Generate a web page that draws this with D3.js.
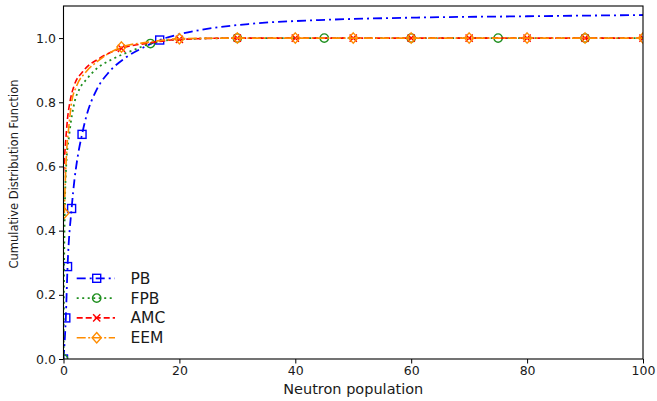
<!DOCTYPE html>
<html>
<head>
<meta charset="utf-8">
<script src="https://cdn.jsdelivr.net/npm/d3@7"></script>
<style>
  html, body { margin: 0; padding: 0; background: #fff; }
  svg { display: block; }
  text { font-family: "DejaVu Sans", sans-serif; fill: #1a1a1a; }
</style>
</head>
<body>
<svg id="chart" width="657" height="401"></svg>
<script>
// Cumulative distribution of the neutron population for four methods.
const xTicks = [0, 20, 40, 60, 80, 100];
const yTicks = [0.0, 0.2, 0.4, 0.6, 0.8, 1.0];
const seriesNames = ["PB", "FPB", "AMC", "EEM"];

// PB
const pbX = [0, 0.4, 0.7, 1.4, 1.9, 2.4, 3.2, 4.0, 5.6, 7.9, 10.8, 13.7, 16.6, 20, 23.5, 32, 44, 61, 80, 100];
const pbY = [0, 0.128, 0.288, 0.469, 0.56, 0.625, 0.70, 0.76, 0.835, 0.895, 0.94, 0.97, 0.994, 1.012, 1.025, 1.044, 1.056, 1.064, 1.068, 1.072];
const pbMarks = [0, 1, 2, 3, 6, 12];

// FPB
const fpbX = [0, 0.05, 0.17, 0.46, 1.0, 1.9, 2.8, 4.0, 5.6, 8.5, 12, 15, 20, 30, 45, 60, 75, 90, 100];
const fpbY = [0, 0.15, 0.4, 0.6, 0.7, 0.8, 0.843, 0.872, 0.903, 0.935, 0.962, 0.983, 0.996, 1.0, 1.0, 1.0, 1.0, 1.0, 1.0];
const fpbMarks = [0, 11, 13, 14, 15, 16, 17];

// AMC
const amcX = [0, 0.3, 0.7, 1.1, 1.8, 3.3, 6.2, 10, 14.9, 20, 30, 40, 50, 60, 70, 80, 90, 100];
const amcY = [0.58, 0.66, 0.75, 0.8, 0.85, 0.895, 0.937, 0.968, 0.985, 0.996, 1.0, 1.0, 1.0, 1.0, 1.0, 1.0, 1.0, 1.0];
const amcMarks = [7, 9, 10, 11, 12, 13, 14, 15, 16, 17];

// EEM
const eemX = [0.15, 0.3, 0.55, 0.9, 1.4, 2.2, 3.9, 6.2, 10, 15, 20, 30, 40, 50, 60, 70, 80, 90, 100];
const eemY = [0.455, 0.55, 0.65, 0.72, 0.8, 0.848, 0.895, 0.932, 0.972, 0.988, 0.998, 1.0, 1.0, 1.0, 1.0, 1.0, 1.0, 1.0, 1.0];
const eemMarks = [0, 8, 10, 11, 12, 13, 14, 15, 16, 17, 18];

const styles = [
  { color: "#0000ff", dash: "9,4,2,4", width: 1.8, marker: "square" },
  { color: "#1f8f1f", dash: "2,3.5", width: 1.8, marker: "circle" },
  { color: "#ff0000", dash: "6,3", width: 1.6, marker: "cross" },
  { color: "#ff8c00", dash: "9,2.5,2,2.5", width: 1.6, marker: "diamond" }
];

const series = [
  { xs: pbX, ys: pbY, marks: pbMarks },
  { xs: fpbX, ys: fpbY, marks: fpbMarks },
  { xs: amcX, ys: amcY, marks: amcMarks },
  { xs: eemX, ys: eemY, marks: eemMarks }
].map((s, i) => ({
  name: seriesNames[i],
  style: styles[i],
  points: s.xs.map((x, j) => ({ x, y: s.ys[j] })),
  markers: s.marks.map(j => ({ x: s.xs[j], y: s.ys[j] }))
}));

const svg = d3.select("#chart");
const plotLeft = 63.5, plotRight = 643, plotTop = 6, plotBottom = 359;

const x = d3.scaleLinear().domain([0, 100]).range([plotLeft, plotRight]);
const y = d3.scaleLinear().domain([0, 1.1]).range([plotBottom, plotTop]);

svg.append("defs").append("clipPath").attr("id", "plotClip")
  .append("rect").attr("x", plotLeft).attr("y", plotTop)
  .attr("width", plotRight - plotLeft).attr("height", plotBottom - plotTop);

const plot = svg.append("g").attr("clip-path", "url(#plotClip)");

const line = d3.line()
  .x(d => x(d.x)).y(d => y(d.y))
  .curve(d3.curveMonotoneX);

function drawMarker(g, kind, cx, cy, color) {
  const m = g.append("g").attr("transform", `translate(${cx},${cy})`);
  let el;
  if (kind === "square") {
    el = m.append("rect").attr("x", -4).attr("y", -4).attr("width", 8).attr("height", 8);
  } else if (kind === "circle") {
    el = m.append("circle").attr("r", 4.2);
  } else if (kind === "diamond") {
    el = m.append("path").attr("d", "M0,-5.2L4.6,0L0,5.2L-4.6,0Z");
  } else {
    el = m.append("path").attr("d", "M-3.6,-3.6L3.6,3.6M-3.6,3.6L3.6,-3.6");
  }
  el.attr("fill", "none").attr("stroke", color).attr("stroke-width", 1.4);
}

series.forEach(s => {
  plot.append("path")
    .datum(s.points)
    .attr("d", line)
    .attr("fill", "none")
    .attr("stroke", s.style.color)
    .attr("stroke-width", s.style.width)
    .attr("stroke-dasharray", s.style.dash);
  s.markers.forEach(p => drawMarker(plot, s.style.marker, x(p.x), y(p.y), s.style.color));
});

// Axes
const xAxis = d3.axisBottom(x).tickValues(xTicks).tickSize(4.5).tickPadding(2.5).tickFormat(d3.format("d"));
const yAxis = d3.axisLeft(y).tickValues(yTicks).tickSize(4.5).tickPadding(3).tickFormat(d3.format(".1f"));

const gx = svg.append("g").attr("transform", `translate(0,${plotBottom})`).call(xAxis);
const gy = svg.append("g").attr("transform", `translate(${plotLeft},0)`).call(yAxis);
[gx, gy].forEach(g => {
  g.select(".domain").remove();
  g.selectAll(".tick line").attr("stroke", "#000").attr("stroke-width", 1);
  g.selectAll(".tick text").attr("font-size", 12.5).attr("fill", "#1a1a1a")
    .attr("font-family", "DejaVu Sans, sans-serif");
});

// Frame
svg.append("rect")
  .attr("x", plotLeft).attr("y", plotTop)
  .attr("width", plotRight - plotLeft).attr("height", plotBottom - plotTop)
  .attr("fill", "none").attr("stroke", "#000").attr("stroke-width", 1.1);

// Axis titles
svg.append("text")
  .attr("x", (plotLeft + plotRight) / 2).attr("y", 394)
  .attr("text-anchor", "middle").attr("font-size", 14.5)
  .text("Neutron population");

svg.append("text")
  .attr("transform", "translate(18,174) rotate(-90)")
  .attr("text-anchor", "middle").attr("font-size", 11.5)
  .text("Cumulative Distribution Function");

// Legend
const legend = svg.append("g");
series.forEach((s, i) => {
  const cy = 278.3 + i * 19.8;
  const row = legend.append("g");
  row.append("line")
    .attr("x1", 76.7).attr("x2", 115).attr("y1", cy).attr("y2", cy)
    .attr("stroke", s.style.color).attr("stroke-width", s.style.width)
    .attr("stroke-dasharray", s.style.dash);
  drawMarker(row, s.style.marker, 96.7, cy, s.style.color);
  row.append("text")
    .attr("x", 130.5).attr("y", cy + 5.5)
    .attr("font-size", 15.5)
    .text(s.name);
});
</script>
</body>
</html>
